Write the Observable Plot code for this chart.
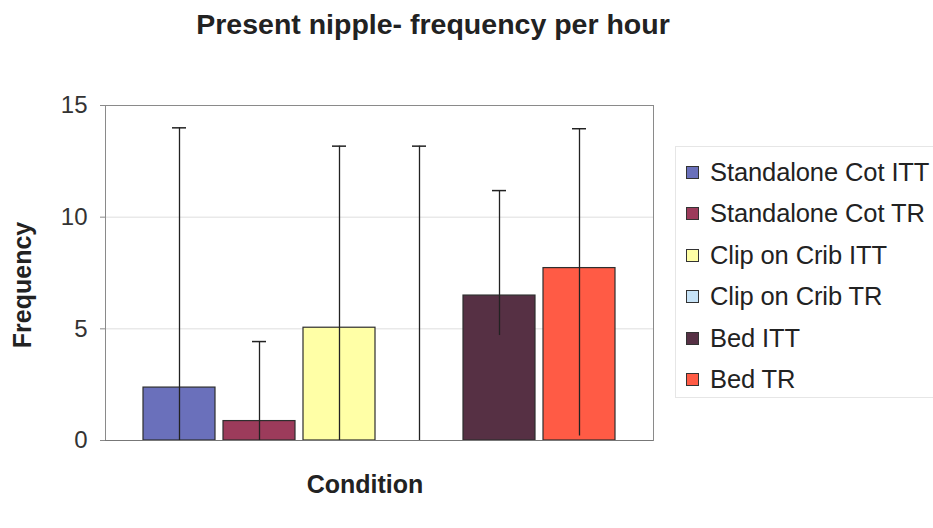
<!DOCTYPE html>
<html>
<head>
<meta charset="utf-8">
<script src="https://cdn.jsdelivr.net/npm/d3@7"></script>
<script src="https://cdn.jsdelivr.net/npm/@observablehq/plot@0.6"></script>
<style>
  html, body { margin: 0; padding: 0; background: #fff; }
  #wrap { position: relative; width: 933px; height: 528px; overflow: hidden; font-family: "Liberation Sans", Arial, sans-serif; color: #222; }
  #title { position: absolute; left: 0; top: 8px; width: 866px; text-align: center; font-weight: bold; font-size: 28.5px; letter-spacing: 0px; white-space: nowrap; }
  #ylabel { position: absolute; left: 22px; top: 285px; transform: translate(-50%, -50%) rotate(-90deg); font-weight: bold; font-size: 25px; white-space: nowrap; }
  #xlabel { position: absolute; left: 365px; top: 484px; transform: translate(-50%, -50%); font-weight: bold; font-size: 25px; white-space: nowrap; }
  #legend { position: absolute; left: 675px; top: 146px; width: 280px; height: 252px; border: 1px solid #e6e6e6; box-sizing: border-box; }
  .item { position: absolute; left: 10px; height: 30px; display: flex; align-items: center; font-size: 25.5px; white-space: nowrap; letter-spacing: -0.1px; }
  .sw { width: 11px; height: 11px; border: 1px solid #333; margin-right: 11px; flex: none; }
  #plot svg text { font-family: "Liberation Sans", Arial, sans-serif; }
</style>
</head>
<body>
<div id="wrap">
  <div id="plot"></div>
  <div id="title">Present nipple- frequency per hour</div>
  <div id="ylabel">Frequency</div>
  <div id="xlabel">Condition</div>
  <div id="legend"></div>
</div>
<script>
const seriesNames = ["Standalone Cot ITT", "Standalone Cot TR", "Clip on Crib ITT", "Clip on Crib TR", "Bed ITT", "Bed TR"];
const seriesValues = [2.37, 0.87, 5.05, 0, 6.49, 7.72];
const errorHigh = [14.0, 4.43, 13.18, 13.18, 11.19, 13.96];
const errorLow = [0, 0, 0, 0, 4.7, 0.2];
const seriesColors = ["#6A70BB", "#9C3B5B", "#FFFFA6", "#C7E3F7", "#563044", "#FF5B45"];
const yTicks = [0, 5, 10, 15];
const gridTicks = [5, 10];

const data = seriesNames.map((name, i) => ({
  name, value: seriesValues[i], hi: errorHigh[i], lo: errorLow[i]
}));

const chart = Plot.plot({
  width: 933,
  height: 528,
  marginLeft: 105,
  marginRight: 280,
  marginTop: 105,
  marginBottom: 88,
  style: { background: "#fff", color: "#222" },
  x: { domain: seriesNames, paddingInner: 0.095, paddingOuter: 0.44, axis: null },
  y: { domain: [0, 15], axis: null },
  color: { domain: seriesNames, range: seriesColors },
  marks: [
    Plot.gridY(gridTicks, { stroke: "#c8c8c8", strokeOpacity: 0.6 }),
    Plot.frame({ stroke: "#8a8a8a" }),
    Plot.axisY(yTicks, { tickSize: 5, tickPadding: 13, fontSize: 24, stroke: "#8a8a8a", fill: "#333", label: null }),
    Plot.barY(data, { x: "name", y: "value", fill: "name", stroke: "#2e2e2e", strokeWidth: 1.2 }),
    Plot.ruleX(data, { x: "name", y1: "lo", y2: "hi", stroke: "#222", strokeWidth: 1.3 }),
    Plot.tickY(data, { x: "name", y: "hi", stroke: "#222", strokeWidth: 1.5, insetLeft: 29, insetRight: 29 }),
    Plot.ruleY([0], { stroke: "#777" })
  ]
});
document.getElementById("plot").appendChild(chart);

const color = chart.scale("color");
const legend = document.getElementById("legend");
seriesNames.forEach((name, i) => {
  const item = document.createElement("div");
  item.className = "item";
  item.style.top = (10 + i * 41.5) + "px";
  const sw = document.createElement("span");
  sw.className = "sw";
  sw.style.background = color.apply(name);
  const label = document.createElement("span");
  label.textContent = name;
  item.appendChild(sw);
  item.appendChild(label);
  legend.appendChild(item);
});
</script>
</body>
</html>
